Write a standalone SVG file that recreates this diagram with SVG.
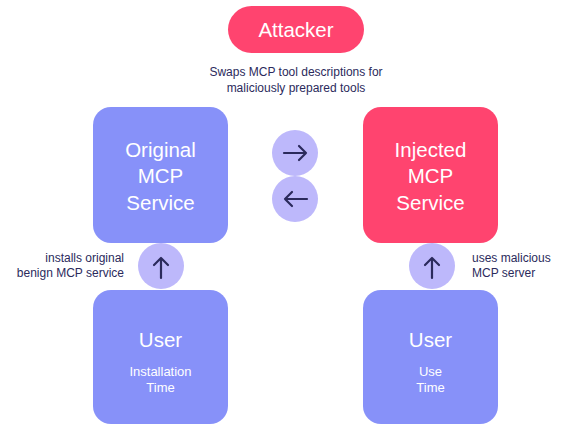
<svg xmlns="http://www.w3.org/2000/svg" width="566" height="435" viewBox="0 0 566 435">
<style>
.blue{fill:#8791f9}
.pink{fill:#ff446f}
.bubble{fill:#bdb8fb}
.arrow{fill:none;stroke:#2b2a5c;stroke-width:2.2;stroke-linecap:round;stroke-linejoin:round}
.big{font-family:"Liberation Sans",Arial,sans-serif;font-size:20.5px;fill:#ffffff;text-anchor:middle}
.mid{font-family:"Liberation Sans",Arial,sans-serif;font-size:13px;fill:#ffffff;text-anchor:middle}
.note{font-family:"Liberation Sans",Arial,sans-serif;font-size:12px;fill:#2b2a5c}
</style>
<rect width="566" height="435" fill="#ffffff"/>
<g id="attacker">
<rect class="pink" x="228" y="6" width="136" height="47" rx="23.5"/>
<text class="big" x="296" y="37">Attacker</text>
</g>
<g id="attacker-note">
<text class="note" x="296" y="76" text-anchor="middle">Swaps MCP tool descriptions for</text>
<text class="note" x="296" y="92" text-anchor="middle">maliciously prepared tools</text>
</g>
<g id="original-mcp">
<rect class="blue" x="93" y="107" width="135" height="136" rx="18"/>
<text class="big" x="160.5" y="157">Original</text>
<text class="big" x="160.5" y="183">MCP</text>
<text class="big" x="160.5" y="210">Service</text>
</g>
<g id="injected-mcp">
<rect class="pink" x="363" y="107" width="135" height="136" rx="18"/>
<text class="big" x="430.5" y="157">Injected</text>
<text class="big" x="430.5" y="183">MCP</text>
<text class="big" x="430.5" y="210">Service</text>
</g>
<g id="user-install">
<rect class="blue" x="93" y="290" width="135" height="134" rx="18"/>
<text class="big" x="160.5" y="347">User</text>
<text class="mid" x="160.5" y="376">Installation</text>
<text class="mid" x="160.5" y="392">Time</text>
</g>
<g id="user-use">
<rect class="blue" x="363" y="290" width="135" height="134" rx="18"/>
<text class="big" x="430.5" y="347">User</text>
<text class="mid" x="430.5" y="376">Use</text>
<text class="mid" x="430.5" y="392">Time</text>
</g>
<g id="connectors">
<circle class="bubble" cx="295" cy="153" r="23"/>
<path class="arrow" d="M284,153 H306 M299,146 L306,153 L299,160"/>
<circle class="bubble" cx="295" cy="199" r="23"/>
<path class="arrow" d="M285,199 H307 M292,192 L285,199 L292,206"/>
<circle class="bubble" cx="161" cy="266" r="23"/>
<path class="arrow" d="M161,258 V278 M154,265 L161,258 L168,265"/>
<circle class="bubble" cx="432" cy="266" r="23"/>
<path class="arrow" d="M432,258 V278 M425,265 L432,258 L439,265"/>
<text class="note" x="124" y="262" text-anchor="end">installs original</text>
<text class="note" x="124" y="277" text-anchor="end">benign MCP service</text>
<text class="note" x="472" y="262">uses malicious</text>
<text class="note" x="472" y="277">MCP server</text>
</g>
</svg>
